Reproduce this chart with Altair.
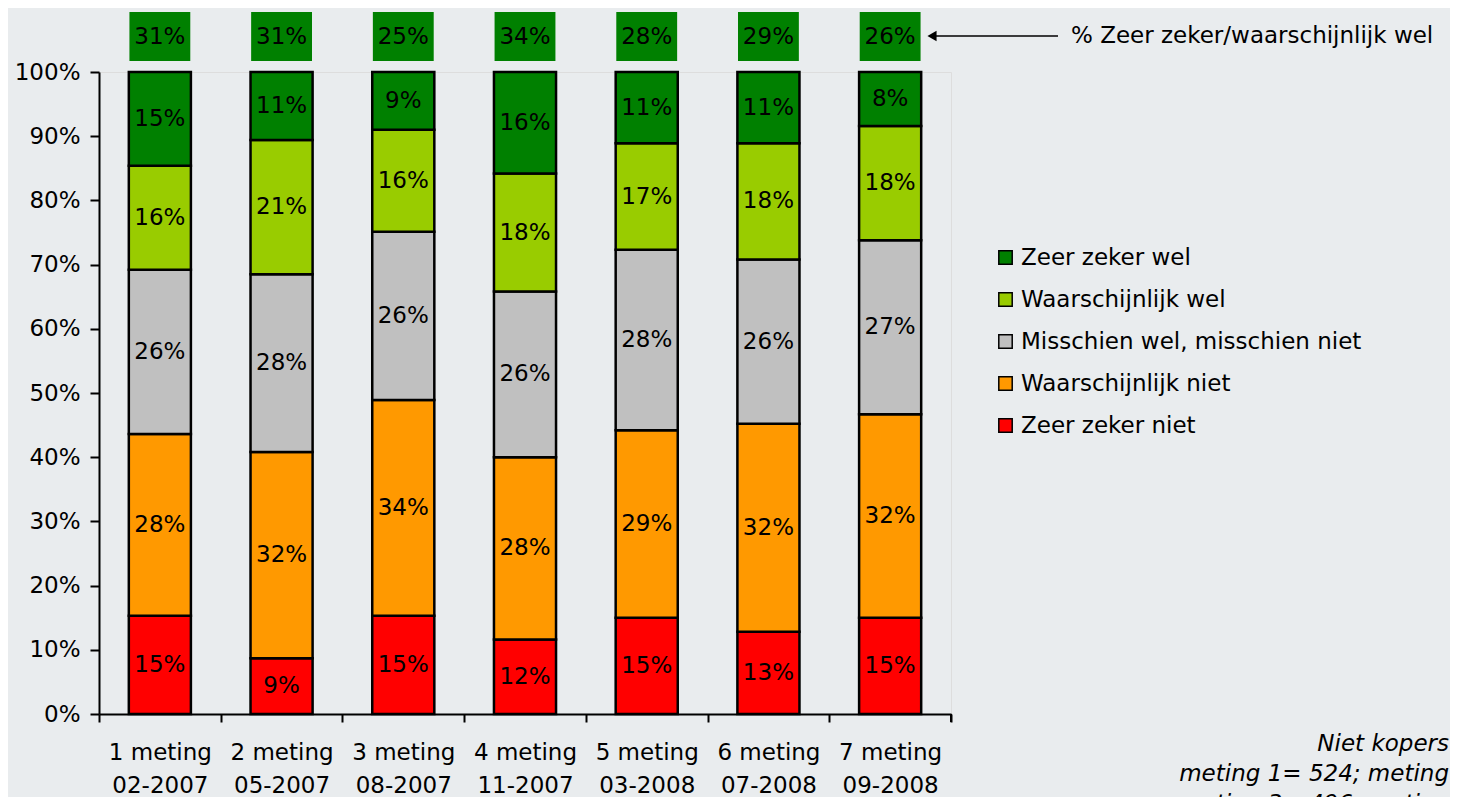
import altair as alt
import pandas as pd

# ---- data ----
categories = ["1 meting", "2 meting", "3 meting", "4 meting", "5 meting", "6 meting", "7 meting"]
dates = ["02-2007", "05-2007", "08-2007", "11-2007", "03-2008", "07-2008", "09-2008"]

series_bottom_to_top = [
    "Zeer zeker niet",
    "Waarschijnlijk niet",
    "Misschien wel, misschien niet",
    "Waarschijnlijk wel",
    "Zeer zeker wel",
]
series_colors = ["#FF0000", "#FF9900", "#C0C0C0", "#99CC00", "#008000"]

zeer_zeker_niet = [15.3, 8.7, 15.3, 11.6, 15.0, 12.8, 15.0]
waarschijnlijk_niet = [28.3, 32.1, 33.6, 28.4, 29.2, 32.4, 31.7]
misschien = [25.6, 27.7, 26.2, 25.8, 28.1, 25.6, 27.1]
waarschijnlijk_wel = [16.2, 20.9, 15.9, 18.4, 16.6, 18.1, 17.8]
zeer_zeker_wel = [14.6, 10.6, 9.0, 15.8, 11.1, 11.1, 8.4]

top_totals = [31, 31, 25, 34, 28, 29, 26]

annotation_text = "% Zeer zeker/waarschijnlijk wel"
note_lines = ["Niet kopers", "meting 1= 524; meting", "meting 3= 496; meting"]

# ---- build tables ----
cat_labels = [f"{c}|{d}" for c, d in zip(categories, dates)]
values_by_series = [zeer_zeker_niet, waarschijnlijk_niet, misschien, waarschijnlijk_wel, zeer_zeker_wel]

rows = []
for s_idx, (name, vals) in enumerate(zip(series_bottom_to_top, values_by_series)):
    for cat, v in zip(cat_labels, vals):
        rows.append({"cat": cat, "series": name, "value": v, "ord": s_idx})
df = pd.DataFrame(rows)
top_df = pd.DataFrame({"cat": cat_labels, "total": top_totals})
one = pd.DataFrame({"a": [0]})

FONT = "DejaVu Sans"
FS = 23
W = 852
H = 642
TOP_H = 49
BAR_BAND = 0.51

legend_order = list(reversed(series_bottom_to_top))
legend_colors = list(reversed(series_colors))

x_scale = alt.Scale(domain=cat_labels, paddingInner=0, paddingOuter=0)

x_main = alt.X(
    "cat:N",
    sort=cat_labels,
    scale=x_scale,
    axis=alt.Axis(
        title=None,
        labelAngle=0,
        labelExpr="split(datum.label, '|')",
        tickBand="extent",
        tickSize=8,
        tickWidth=2,
        tickColor="black",
        domainColor="black",
        domainWidth=2,
        labelFontSize=FS,
        labelFont=FONT,
        labelColor="black",
        labelPadding=19,
        labelLineHeight=33,
        labelBaseline="top",
    ),
)

y_main = alt.Y(
    "value:Q",
    stack="zero",
    scale=alt.Scale(domain=[0, 100], nice=False),
    axis=alt.Axis(
        title=None,
        values=list(range(0, 101, 10)),
        labelExpr="datum.value + '%'",
        grid=False,
        tickSize=9,
        tickWidth=2,
        tickColor="black",
        domainColor="black",
        domainWidth=2,
        labelFontSize=FS,
        labelFont=FONT,
        labelColor="black",
        labelPadding=10,
    ),
)

bars = alt.Chart(df).mark_bar(
    width=alt.RelativeBandSize(BAR_BAND), stroke="black", strokeWidth=2.5
).encode(
    x=x_main,
    y=y_main,
    color=alt.Color(
        "series:N",
        scale=alt.Scale(domain=legend_order, range=legend_colors),
        legend=alt.Legend(
            title=None,
            orient="none",
            legendX=895,
            legendY=234,
            symbolType="square",
            symbolSize=180,
            symbolStrokeColor="black",
            symbolStrokeWidth=1.5,
            symbolOpacity=1,
            labelFontSize=FS,
            labelFont=FONT,
            labelColor="black",
            labelOffset=4,
            rowPadding=18,
            labelLimit=500,
        ),
    ),
    order=alt.Order("ord:Q", sort="ascending"),
)

labels = alt.Chart(df).transform_stack(
    stack="value", groupby=["cat"], sort=[alt.SortField("ord", order="ascending")], as_=["y0", "y1"]
).transform_calculate(
    mid="(datum.y0 + datum.y1) / 2",
    lbl="format(datum.value, '.0f') + '%'",
).mark_text(fontSize=FS, font=FONT, color="black", baseline="middle").encode(
    x=alt.X("cat:N", sort=cat_labels, scale=x_scale),
    y=alt.Y("mid:Q", scale=alt.Scale(domain=[0, 100], nice=False)),
    text="lbl:N",
)

end_tick = alt.Chart(one).mark_rule(color="black", strokeWidth=2).encode(
    x=alt.value(W), y=alt.value(H), y2=alt.value(H + 8)
)

note = alt.Chart(pd.DataFrame({
    "t": note_lines,
    "px": [1350, 1350, 1350],
    "py": [679, 709, 739],
})).mark_text(fontSize=FS, font=FONT, fontStyle="italic", color="black", align="right", baseline="alphabetic").encode(
    x=alt.X("px:Q", scale=None), y=alt.Y("py:Q", scale=None), text="t:N"
)

main = alt.layer(bars, labels, end_tick, note).properties(width=W, height=H)

# ---- top row with totals ----
x_top = alt.X("cat:N", sort=cat_labels, scale=x_scale, axis=None)
top_boxes = alt.Chart(top_df).mark_bar(
    width=alt.RelativeBandSize(0.5), color="#008000"
).encode(x=x_top)
top_text = alt.Chart(top_df).transform_calculate(
    lbl="datum.total + '%'"
).mark_text(fontSize=FS, font=FONT, color="black", baseline="middle").encode(
    x=x_top, text="lbl:N",
)

arrow_line = alt.Chart(one).mark_rule(color="black", strokeWidth=1.5).encode(
    x=alt.value(834), x2=alt.value(959), y=alt.value(24)
)
arrow_head = alt.Chart(one).mark_point(
    shape="triangle-left", filled=True, color="black", size=110, opacity=1
).encode(x=alt.value(833), y=alt.value(24))
arrow_text = alt.Chart(pd.DataFrame({"t": [annotation_text]})).mark_text(
    fontSize=FS, font=FONT, color="black", align="left", baseline="middle"
).encode(x=alt.value(972), y=alt.value(24), text="t:N")

top = alt.layer(top_boxes, top_text, arrow_line, arrow_head, arrow_text).properties(
    width=W, height=TOP_H, view=alt.ViewBackground(stroke="transparent", strokeWidth=0)
)

chart = alt.vconcat(top, main, spacing=11, bounds="flush").resolve_scale(
    x="shared"
).properties(
    background="#E9ECEE",
    padding={"left": 5, "top": 4, "right": 0, "bottom": 5},
).configure_view(
    stroke="black", strokeWidth=2.5
).configure(font=FONT)

chart.save("out.html", embed_options={"renderer": "svg", "actions": False})
